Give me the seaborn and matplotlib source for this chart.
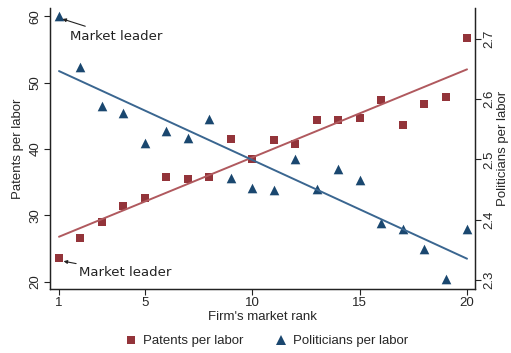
import numpy as np
import pandas as pd
import seaborn as sns
import matplotlib
matplotlib.use("Agg")
import matplotlib.pyplot as plt
from matplotlib.lines import Line2D

# Firm rank (1 = market leader)
rank = list(range(1, 21))
patents_per_labor = [23.5, 26.5, 29.0, 31.4, 32.6, 35.8, 35.4, 35.7, 41.5, 38.5,
                     41.3, 40.8, 44.4, 44.4, 44.7, 47.4, 43.6, 46.8, 47.8, 56.7]
politicians_per_labor = [2.738, 2.654, 2.588, 2.577, 2.527, 2.547, 2.536, 2.567, 2.469, 2.452,
                         2.449, 2.500, 2.451, 2.484, 2.466, 2.394, 2.385, 2.351, 2.302, 2.384]
x_ticks = [1, 5, 10, 15, 20]
left_ticks = [20, 30, 40, 50, 60]
right_ticks = [2.3, 2.4, 2.5, 2.6, 2.7]

df = pd.DataFrame({"rank": rank, "patents": patents_per_labor,
                   "politicians": politicians_per_labor})

sns.set_style("white")
plt.rcParams["font.family"] = ["Liberation Sans", "DejaVu Sans"]

RED = "#93343A"
BLUE = "#1A476F"

fig = plt.figure(figsize=(5.11, 3.53), dpi=100)
ax = fig.add_axes([0.0978, 0.1813, 0.8317, 0.796])
ax2 = ax.twinx()

sns.regplot(data=df, x="rank", y="patents", ax=ax, ci=None, truncate=True,
            marker="s", color=RED,
            scatter_kws=dict(s=36, linewidths=0, alpha=1),
            line_kws=dict(lw=1.4, color="#B0595E"))
sns.regplot(data=df, x="rank", y="politicians", ax=ax2, ci=None, truncate=True,
            marker="^", color=BLUE,
            scatter_kws=dict(s=48, linewidths=0, alpha=1),
            line_kws=dict(lw=1.4, color="#3A6690"))

ax.set_xlim(0.58, 20.37)
ax.set_ylim(18.87, 61.28)
ax2.set_ylim(2.285, 2.7515)

ax.set_xticks(x_ticks)
ax.set_yticks(left_ticks)
ax2.set_yticks(right_ticks)
ax2.set_yticklabels([f"{v:.1f}" for v in right_ticks])

for a in (ax, ax2):
    a.tick_params(axis="both", which="both", direction="out", length=4, width=0.8,
                  labelsize=9.5, color="#222222", pad=2)
    a.spines["top"].set_visible(False)
    for side in ("left", "right", "bottom"):
        a.spines[side].set_color("#222222")
        a.spines[side].set_linewidth(0.9)
ax.tick_params(axis="y", left=True, labelrotation=90)
ax2.tick_params(axis="y", right=True, labelrotation=90)
for lab in ax.get_yticklabels():
    lab.set_va("center")
for lab in ax2.get_yticklabels():
    lab.set_va("center")
ax.tick_params(axis="x", bottom=True)

ax.set_xlabel("Firm's market rank", fontsize=9.5, labelpad=1)
ax.set_ylabel("Patents per labor", fontsize=9.5, labelpad=4)
ax2.set_ylabel("Politicians per labor", fontsize=9.5, labelpad=1, rotation=90)

# Call out the market leader in both series
ax2.annotate("Market leader", xy=(1.1, politicians_per_labor[0] - 0.004),
             xytext=(1.5, 2.705), fontsize=9.5, family="DejaVu Sans",
             ha="left", va="center", color="#222222",
             arrowprops=dict(arrowstyle="-|>", color="#222222", lw=0.8,
                             mutation_scale=5, shrinkA=0, shrinkB=1))
ax.annotate("Market leader", xy=(1.15, patents_per_labor[0] - 0.4),
            xytext=(1.95, 21.3), fontsize=9.5, family="DejaVu Sans",
            ha="left", va="center", color="#222222",
            arrowprops=dict(arrowstyle="-|>", color="#222222", lw=0.8,
                            mutation_scale=5, shrinkA=0, shrinkB=1))

handles = [Line2D([], [], marker="s", ls="", color=RED, markersize=6, markeredgewidth=0),
           Line2D([], [], marker="^", ls="", color=BLUE, markersize=7, markeredgewidth=0)]
fig.legend(handles, ["Patents per labor", "Politicians per labor"],
           loc="center", bbox_to_anchor=(0.52, 0.033), ncol=2, frameon=False,
           fontsize=9.5, handletextpad=0.3, columnspacing=2.3, handlelength=1.2)

fig.savefig("out.png", dpi=100, facecolor="white")
